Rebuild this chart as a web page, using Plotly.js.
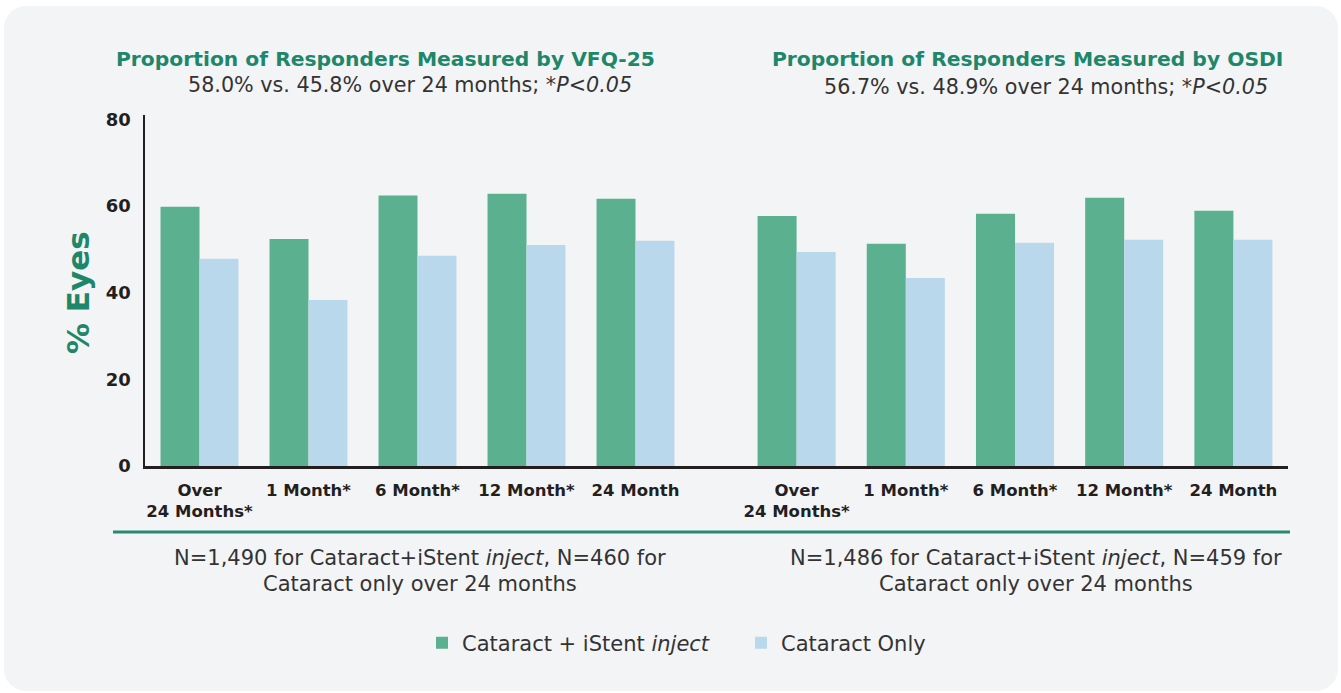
<!DOCTYPE html>
<html>
<head>
<meta charset="utf-8">
<script src="https://cdn.plot.ly/plotly-3.0.1.min.js"></script>
<style>
  html, body { margin: 0; padding: 0; background: #ffffff; }
  #card { position: absolute; left: 4px; top: 6px; width: 1334px; height: 685px; border-radius: 22px; background: #f3f4f6; }
  #chart { position: absolute; left: 0; top: 0; width: 1341px; height: 693px; }
</style>
</head>
<body>
<div id="card"></div>
<div id="chart"></div>
<script>
// ---- data ----
const categories = ['Over<br>24 Months*', '1 Month*', '6 Month*', '12 Month*', '24 Month'];
const seriesNames = ['Cataract + iStent <i>inject</i>', 'Cataract Only'];
const vfqIstent   = [59.8, 52.4, 62.4, 62.8, 61.7];
const vfqCataract = [47.8, 38.3, 48.5, 51.0, 52.0];
const osdiIstent   = [57.7, 51.3, 58.2, 61.9, 58.9];
const osdiCataract = [49.4, 43.4, 51.5, 52.2, 52.2];
const yTicks = [0, 20, 40, 60, 80];

// ---- layout geometry (pixels) ----
const W = 1341, H = 693;
const mL = 145, mR = 53, mT = 115, mB = 227;
const plotW = W - mL - mR, plotH = H - mT - mB;
const px = x => (x - mL) / plotW;
const py = y => (H - mB - y) / plotH;
const split = px(742);

const green = '#5bb090', blue = '#bad8ec', titleGreen = '#1f8769', dark = '#231f20', txt = '#333333';
const FONT = 'DejaVu Sans, sans-serif';

const traces = [
  { type: 'bar', x: categories, y: vfqIstent, name: seriesNames[0], marker: { color: green }, xaxis: 'x', yaxis: 'y', legendgroup: 'a' },
  { type: 'bar', x: categories, y: vfqCataract, name: seriesNames[1], marker: { color: blue }, xaxis: 'x', yaxis: 'y', legendgroup: 'b' },
  { type: 'bar', x: categories, y: osdiIstent, name: seriesNames[0], marker: { color: green }, xaxis: 'x2', yaxis: 'y', legendgroup: 'a', showlegend: false },
  { type: 'bar', x: categories, y: osdiCataract, name: seriesNames[1], marker: { color: blue }, xaxis: 'x2', yaxis: 'y', legendgroup: 'b', showlegend: false }
];

const xCommon = {
  type: 'category', showline: true, linecolor: dark, linewidth: 3, showgrid: false, zeroline: false,
  ticks: '', tickfont: { family: FONT, size: 16.5, color: dark, weight: 'bold' }, ticklabelstandoff: 7, fixedrange: true
};

function note(text, x, y, size, color) {
  return { text: text, xref: 'paper', yref: 'paper', x: px(x), y: py(y), showarrow: false,
           font: { family: FONT, size: size, color: color }, xanchor: 'center', yanchor: 'middle' };
}

const layout = {
  width: W, height: H,
  margin: { l: mL, r: mR, t: mT, b: mB, pad: 0 },
  paper_bgcolor: 'rgba(0,0,0,0)', plot_bgcolor: 'rgba(0,0,0,0)',
  barmode: 'group', bargap: 0.285, bargroupgap: 0,
  font: { family: FONT, color: txt },
  xaxis: Object.assign({}, xCommon, { domain: [0, split], range: [-0.5, 4.977], anchor: 'y' }),
  xaxis2: Object.assign({}, xCommon, { domain: [split, 1], range: [-0.5, 4.5], anchor: 'y' }),
  yaxis: {
    range: [0, 81], tickvals: yTicks, ticktext: yTicks.map(String),
    showline: true, linecolor: dark, linewidth: 2.5, showgrid: false, zeroline: false,
    ticks: '', ticklabelstandoff: 8,
    tickfont: { family: FONT, size: 18, color: dark, weight: 'bold' }, fixedrange: true
  },
  showlegend: true,
  legend: {
    orientation: 'h', x: px(422), xanchor: 'left', y: py(643), yanchor: 'middle',
    entrywidth: 274, entrywidthmode: 'pixels',
    font: { family: FONT, size: 21, color: txt }, bgcolor: 'rgba(0,0,0,0)', traceorder: 'normal'
  },
  shapes: [
    { type: 'line', xref: 'paper', yref: 'paper', x0: px(113), x1: px(1290), y0: py(532), y1: py(532),
      line: { color: '#2a8a70', width: 3 } }
  ],
  annotations: [
    Object.assign(note('<b>% Eyes</b>', 78, 293, 31, titleGreen), { textangle: -90 }),
    note('<b>Proportion of Responders Measured by VFQ-25</b>', 385, 59, 20.3, titleGreen),
    note('58.0% vs. 45.8% over 24 months; <i>*P&lt;0.05</i>', 410, 85, 20.7, txt),
    note('<b>Proportion of Responders Measured by OSDI</b>', 1027, 59, 20.3, titleGreen),
    note('56.7% vs. 48.9% over 24 months; <i>*P&lt;0.05</i>', 1046, 87, 20.7, txt),
    note('N=1,490 for Cataract+iStent <i>inject</i>, N=460 for', 420, 558, 21, txt),
    note('Cataract only over 24 months', 420, 584, 21, txt),
    note('N=1,486 for Cataract+iStent <i>inject</i>, N=459 for', 1036, 558, 21, txt),
    note('Cataract only over 24 months', 1036, 584, 21, txt)
  ]
};

Plotly.newPlot('chart', traces, layout, { staticPlot: true, displayModeBar: false });
</script>
</body>
</html>
